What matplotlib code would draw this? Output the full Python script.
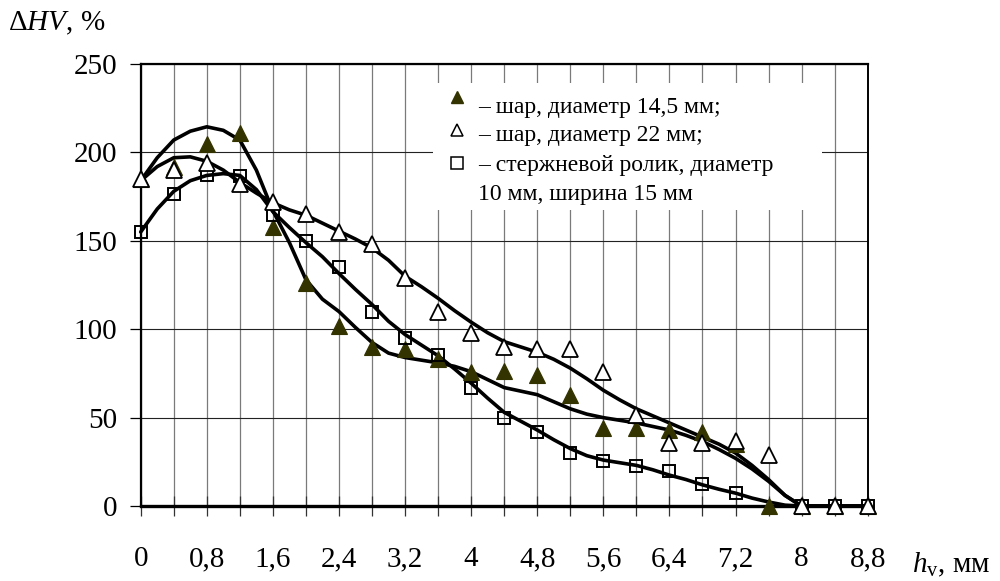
import numpy as np
import matplotlib
matplotlib.use("Agg")
import matplotlib.pyplot as plt
from matplotlib.patches import Rectangle

plt.rcParams['font.family'] = ['Liberation Serif', 'DejaVu Serif']
plt.rcParams['mathtext.fontset'] = 'custom'
plt.rcParams['mathtext.rm'] = 'Liberation Serif'
plt.rcParams['mathtext.it'] = 'Liberation Serif:italic'

# Measured points: depth h_v (mm) and hardness increase ΔHV (%)
depth = [0, 0.4, 0.8, 1.2, 1.6, 2.0, 2.4, 2.8, 3.2, 3.6, 4.0, 4.4,
         4.8, 5.2, 5.6, 6.0, 6.4, 6.8, 7.2, 7.6, 8.0, 8.4, 8.8]
ball_14_5 = [185, 192, 205, 211, 158, 126, 102, 90, 89, 83, 76, 76.5,
             74, 63, 44, 44, 43, 42, 35, 0, 0, 0, 0]
ball_22 = [185, 190, 194, 182, 172, 165, 155, 148, 129, 110, 98, 90,
           89, 89, 76, 51.5, 35.6, 35.6, 37, 29, 0, 0, 0]
roller = [155, 176.5, 187, 186.6, 164.6, 150, 135, 110, 95, 85.4, 67, 50,
          42, 30, 25.5, 22.6, 20, 12.4, 7.4, np.nan, 0, 0, 0]

# Smoothed trend curves
trend_depth = [0, 0.2, 0.4, 0.6, 0.8, 1.0, 1.2, 1.4, 1.6, 1.8, 2.0, 2.2,
               2.4, 2.6, 2.8, 3.0, 3.2, 3.4, 3.6, 3.8, 4.0, 4.2, 4.4, 4.6,
               4.8, 5.0, 5.2, 5.4, 5.6, 5.8, 6.0, 6.2, 6.4, 6.6, 6.8, 7.0,
               7.2, 7.4, 7.6, 7.8, 8.0, 8.2, 8.4, 8.6, 8.8]
trend_14_5 = [184, 197, 207, 212, 214.5, 212.5, 207, 190, 167, 149, 128, 117,
              110, 101, 92.5, 86.5, 84, 82.5, 81, 79, 76, 71.5, 67, 65,
              63, 59, 55, 52, 50, 48.5, 47, 45, 43, 40, 36.5, 32,
              27, 21, 14, 6, 0, 0, 0, 0, 0]
trend_22 = [184, 192, 197, 197.5, 195, 190, 183, 177, 171.5, 167.5, 164.5, 160,
            155.5, 151, 146, 139, 130, 124, 117.5, 110.5, 104, 98, 93, 90,
            87, 83, 78, 72, 65.5, 60, 55, 51, 47, 43, 39, 35,
            30, 23, 15, 6, 0, 0, 0, 0, 0]
trend_roller = [155, 168, 178, 184, 187, 188, 187, 179, 166.5, 157.5, 149, 141,
                131.5, 122.5, 114, 104.5, 97, 91, 85, 77.5, 69.5, 61, 53, 48,
                43, 37.5, 32.5, 28.5, 26, 24.5, 23, 20.5, 17.5, 15, 12, 9.5,
                7.3, 4.5, 2.3, 0.5, 0, 0, 0, 0, 0]

x_ticks = [0, 0.4, 0.8, 1.2, 1.6, 2.0, 2.4, 2.8, 3.2, 3.6, 4.0, 4.4,
           4.8, 5.2, 5.6, 6.0, 6.4, 6.8, 7.2, 7.6, 8.0, 8.4, 8.8]
x_tick_labels = ['0', '', '0,8', '', '1,6', '', '2,4', '', '3,2', '', '4', '',
                 '4,8', '', '5,6', '', '6,4', '', '7,2', '', '8', '', '8,8']
y_ticks = [0, 50, 100, 150, 200, 250]

legend_labels = ['– шар, диаметр 14,5 мм;',
                 '– шар, диаметр 22 мм;',
                 '– стержневой ролик, диаметр',
                 '10 мм, ширина 15 мм']

olive = '#333300'

fig = plt.figure(figsize=(10, 5.81), dpi=100)
ax = fig.add_axes([0.1407, 0.129, 0.727, 0.7608])

ax.set_xlim(0, 8.8)
ax.set_ylim(0, 250)

# grid
ax.set_xticks(x_ticks)
ax.set_xticklabels(x_tick_labels)
ax.set_yticks(y_ticks)
ax.xaxis.grid(True, color='#7a7a7a', lw=0.9)
ax.yaxis.grid(True, color='#222222', lw=0.8)
ax.tick_params(axis='x', direction='inout', length=14, width=0.9,
               labelsize=21, pad=22, color='#333333')
ax.tick_params(axis='y', direction='out', length=8, width=0.9,
               labelsize=21, pad=9)

for side, lw in (('left', 1.6), ('bottom', 2.4), ('top', 1.6), ('right', 1.4)):
    ax.spines[side].set_linewidth(lw)
    ax.spines[side].set_color('black')

# trend curves
for tr in (trend_14_5, trend_22, trend_roller):
    ax.plot(trend_depth, tr, color='black', lw=2.6, zorder=3,
            solid_joinstyle='round', solid_capstyle='round', clip_on=False)

# measured points
ax.plot(depth, ball_14_5, ls='none', marker='^', ms=11, mfc=olive, mec=olive,
        mew=0.8, zorder=4, clip_on=False)
ax.plot(depth, roller, ls='none', marker='s', ms=9, mfc='none', mec='black',
        mew=1.4, zorder=5, clip_on=False)
ax.plot(depth, ball_22, ls='none', marker='^', ms=11, mfc='white', mec='black',
        mew=1.3, zorder=6, clip_on=False)

# legend block
ax.add_patch(Rectangle((0.402, 0.670), 0.535, 0.287, transform=ax.transAxes,
                       facecolor='white', edgecolor='none', zorder=1.8))
ax.plot([0.435], [0.925], transform=ax.transAxes, marker='^', ms=9,
        mfc=olive, mec=olive, ls='none', zorder=7)
ax.plot([0.435], [0.851], transform=ax.transAxes, marker='^', ms=9,
        mfc='white', mec='black', mew=1.1, ls='none', zorder=7)
ax.plot([0.435], [0.776], transform=ax.transAxes, marker='s', ms=8,
        mfc='white', mec='black', mew=1.1, ls='none', zorder=7)
for lbl, yb in zip(legend_labels, (0.889, 0.826, 0.758, 0.692)):
    ax.text(0.464, yb, lbl, transform=ax.transAxes, fontsize=17,
            ha='left', va='baseline', zorder=7)

# axis titles
fig.text(0.008, 0.959, r'$\mathrm{\Delta}\mathit{HV}$, %', fontsize=21,
         ha='left', va='center')
fig.text(0.912, 0.0155, r'$\mathit{h}_\mathrm{v}$, мм', fontsize=21,
         ha='left', va='baseline')

fig.savefig('out.png', dpi=100)
